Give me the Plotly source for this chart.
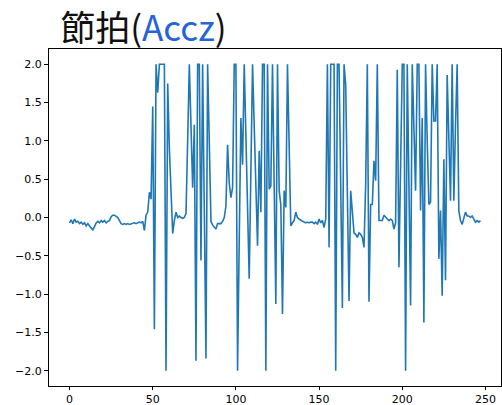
import plotly.graph_objects as go

# Accz values (index 0..247)
accz = [
    -0.07, -0.03, -0.08, -0.02, -0.06, -0.05, -0.08, -0.06, -0.09, -0.07,
    -0.11, -0.08, -0.11, -0.13, -0.16, -0.12, -0.07, -0.05, -0.07, -0.04,
    -0.06, -0.04, -0.07, -0.05, -0.04, 0.01, 0.03, 0.03, 0.02, 0.0,
    -0.04, -0.08, -0.09, -0.08, -0.09, -0.08, -0.09, -0.08, -0.08, -0.07,
    -0.08, -0.07, -0.06, -0.07, -0.05, -0.17, 0.03, 0.07, 0.33, 0.24,
    1.45, -1.46, 2.0, 1.63, 2.0, 2.0, 2.0, 2.0, -2.0, 1.75,
    0.9, 0.2, -0.21, -0.04, 0.07, 0.0, 0.02, 0.0, -0.01, 0.0,
    0.05, 1.0, 2.0, 1.2, 0.39, 1.21, -1.87, 2.0, 2.0, -0.56,
    2.0, 0.1, -1.84, 2.0, 0.9, -0.05, -0.1, -0.13, -0.15, -0.08,
    -0.08, -0.08, -0.05, 0.0, 0.15, 0.95, 0.45, 0.26, 0.39, 2.0,
    2.0, -2.0, -0.3, 1.3, 0.69, 2.0, 1.07, 0.13, -0.8, 0.6,
    2.0, 1.2, 0.4, -0.37, 0.87, 0.07, 2.0, 2.0, -2.0, 2.0,
    0.37, 0.41, 2.0, 0.6, -1.13, 2.0, 0.35, 0.17, -1.26, 0.35,
    0.13, 2.0, 0.9, -0.11, -0.07, -0.04, 0.07, 0.0, -0.02, -0.04,
    -0.05, -0.06, -0.07, -0.06, -0.07, -0.06, -0.06, -0.08, -0.06, -0.09,
    -0.02, -0.07, -0.04, -0.13, -0.02, 2.0, -0.39, 2.0, 2.0, 2.0,
    -2.0, 2.0, 2.0, 0.4, -1.18, 2.0, 1.73, 0.3, -1.09, 0.35,
    0.04, -0.2, -0.22, -0.26, -0.2, -0.22, -0.26, -0.39, 0.43, 2.0,
    -1.1, 0.17, 0.17, 0.74, 0.48, 2.0, -0.04, -0.04, -0.04, 0.03,
    0.0, -0.02, -0.04, -0.02, -0.04, -0.15, -0.07, 1.93, -0.65, 0.7,
    2.0, 2.0, -2.0, 2.0, 0.4, -1.15, 2.0, 1.2, 0.35, 2.0,
    2.0, 0.09, 1.3, -1.37, 2.0, 1.0, 0.17, 0.2, 2.0, 1.26,
    1.26, 2.0, -0.54, 0.09, -1.02, 0.76, -0.82, 1.86, 1.0, 0.22,
    2.0, 0.22, 1.2, 2.0, 0.09, -0.04, -0.09, -0.02, 0.07, 0.02,
    0.02, 0.0, 0.02, -0.02, -0.06, -0.04, -0.06, -0.04,
]
index = list(range(len(accz)))

x_ticks = [0, 50, 100, 150, 200, 250]
y_ticks = [-2.0, -1.5, -1.0, -0.5, 0.0, 0.5, 1.0, 1.5, 2.0]

n = len(accz) - 1
xpad = 0.05 * n

fig = go.Figure(
    go.Scatter(
        x=index, y=accz, mode="lines",
        line=dict(color="#1f77b4", width=1.6),
        hoverinfo="skip",
    )
)

fig.update_layout(
    width=502, height=405,
    margin=dict(l=49, r=1, t=49, b=19),
    paper_bgcolor="white", plot_bgcolor="white",
    showlegend=False,
    font=dict(family="DejaVu Sans", size=11, color="black"),
    title=dict(
        text='節拍(<span style="color:#2563d6">Accz</span>)',
        font=dict(family="Noto Sans CJK TC", size=35, color="#111111"),
        x=0.12, xanchor="left", xref="container",
        y=0.928, yanchor="middle", yref="container",
    ),
)

fig.update_xaxes(
    range=[-xpad, n + xpad], automargin=False,
    tickvals=x_ticks, ticktext=[str(v) for v in x_ticks],
    showgrid=False, zeroline=False,
    showline=True, mirror=True, linecolor="black", linewidth=1,
    ticks="outside", ticklen=3, tickcolor="black", tickwidth=1,
    tickfont=dict(family="DejaVu Sans", size=11, color="black"),
)
fig.update_yaxes(
    range=[-2.2, 2.2], automargin=False,
    tickvals=y_ticks, ticktext=[("−" if v < 0 else "") + f"{abs(v):.1f}" for v in y_ticks],
    showgrid=False, zeroline=False,
    showline=True, mirror=True, linecolor="black", linewidth=1,
    ticks="outside", ticklen=4, tickcolor="black", tickwidth=1,
    tickfont=dict(family="DejaVu Sans", size=11, color="black"),
)

fig.write_html(
    "out.html",
    config={"displayModeBar": False},
    post_script="document.body.style.margin='0';document.body.style.overflow='hidden';",
)
